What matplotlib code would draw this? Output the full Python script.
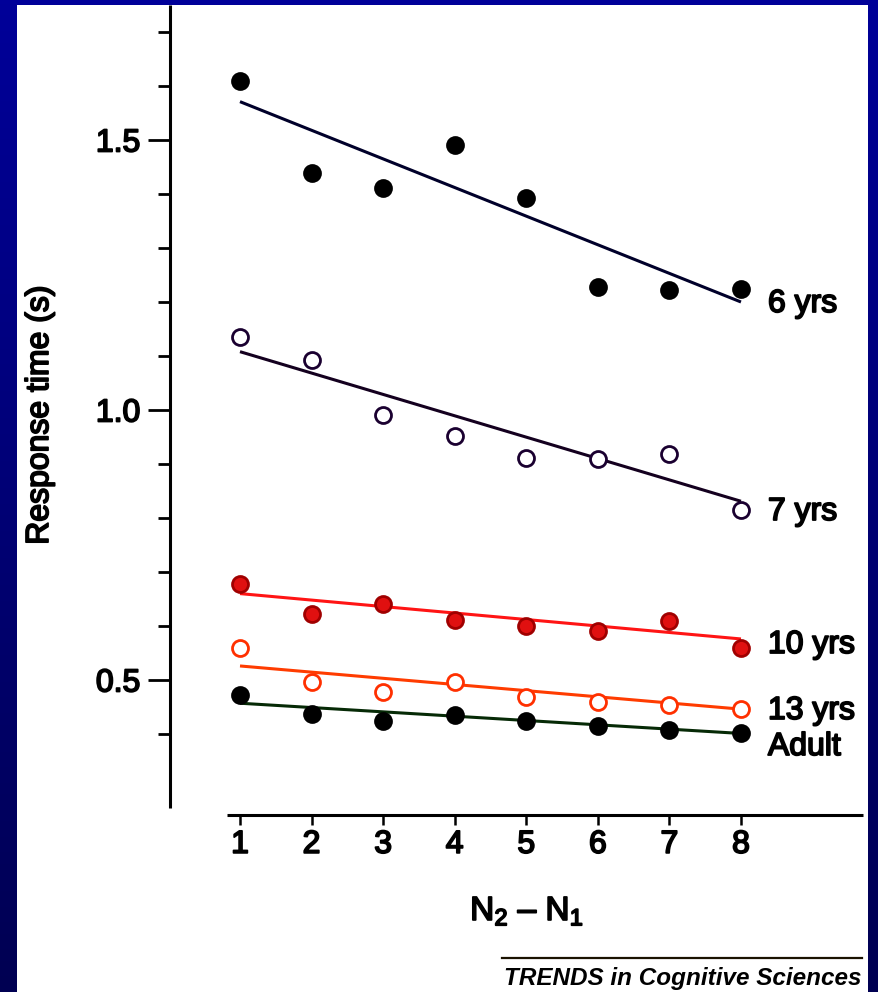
import matplotlib
matplotlib.use('Agg')
import matplotlib.pyplot as plt
import numpy as np
from matplotlib.patches import Rectangle
from matplotlib.colors import LinearSegmentedColormap
import matplotlib.patheffects as pe

plt.rcParams['font.family'] = ['Liberation Sans', 'DejaVu Sans']
plt.rcParams['mathtext.fontset'] = 'custom'
plt.rcParams['mathtext.rm'] = 'Liberation Sans'
plt.rcParams['mathtext.it'] = 'Liberation Sans:italic'
plt.rcParams['mathtext.bf'] = 'Liberation Sans:bold'

# ---------------- data ----------------
n_diff = [1, 2, 3, 4, 5, 6, 7, 8]
rt_6yrs = [1.609, 1.438, 1.412, 1.491, 1.393, 1.228, 1.223, 1.225]
rt_7yrs = [1.136, 1.093, 0.991, 0.952, 0.912, 0.909, 0.918, 0.814]
rt_10yrs = [0.677, 0.622, 0.640, 0.611, 0.600, 0.591, 0.610, 0.559]
rt_13yrs = [0.559, 0.497, 0.477, 0.496, 0.469, 0.459, 0.454, 0.446]
rt_adult = [0.473, 0.437, 0.425, 0.435, 0.424, 0.414, 0.407, 0.402]

fit_x = [1, 8]
fit_6yrs = [1.571, 1.200]
fit_7yrs = [1.108, 0.831]
fit_10yrs = [0.660, 0.576]
fit_13yrs = [0.526, 0.446]
fit_adult = [0.457, 0.401]

series_labels = ['6 yrs', '7 yrs', '10 yrs', '13 yrs', 'Adult']
y_major = [0.5, 1.0, 1.5]
y_major_labels = ['0.5', '1.0', '1.5']
y_minor = [0.4, 0.6, 0.7, 0.8, 0.9, 1.1, 1.2, 1.3, 1.4, 1.6, 1.7]
x_label = r'$\mathregular{N_2}$ – $\mathregular{N_1}$'
y_label = 'Response time (s)'
source = 'TRENDS in Cognitive Sciences'

# ---------------- figure ----------------
W, H = 879, 992
fig = plt.figure(figsize=(W / 100, H / 100), dpi=100)

bg = fig.add_axes([0, 0, 1, 1], zorder=-10)
grad = np.linspace(0, 1, 256).reshape(-1, 1)
cmap = LinearSegmentedColormap.from_list('bord', ['#000099', '#000052'])
bg.imshow(grad, aspect='auto', cmap=cmap, extent=[0, 1, 0, 1], origin='upper')
bg.add_patch(Rectangle((17 / W, 0), (868 - 17) / W, (H - 5) / H,
                       transform=bg.transAxes, facecolor='white', edgecolor='none'))
bg.set_xlim(0, 1)
bg.set_ylim(0, 1)
bg.set_axis_off()

ax = fig.add_axes([170 / W, (H - 815) / H, 693 / W, 810 / H])
ax.patch.set_alpha(0)
ax.set_xlim(0.0219, 9.705)
ax.set_ylim(0.25, 1.75)

stroke = [pe.withStroke(linewidth=1.3, foreground='black')]

styles = [
    dict(data=rt_6yrs, fit=fit_6yrs, lc='#00002a', mfc='black', mec='black'),
    dict(data=rt_7yrs, fit=fit_7yrs, lc='#14001f', mfc='white', mec='#1a0030'),
    dict(data=rt_10yrs, fit=fit_10yrs, lc='#ff1414', mfc='#e01010', mec='#a00000'),
    dict(data=rt_13yrs, fit=fit_13yrs, lc='#ff3c00', mfc='white', mec='#ff3000'),
    dict(data=rt_adult, fit=fit_adult, lc='#062a06', mfc='black', mec='black'),
]
label_y = [1.1815, 0.7963, 0.55, 0.4278, 0.3611]

for st, lab, ly in zip(styles, series_labels, label_y):
    ax.plot(fit_x, st['fit'], color=st['lc'], lw=2.2, solid_capstyle='butt', zorder=2)
    ax.plot(n_diff, st['data'], linestyle='none', marker='o', markersize=11.5,
            markerfacecolor=st['mfc'], markeredgecolor=st['mec'],
            markeredgewidth=2.0, zorder=3)
    ax.text(8.377, ly, lab, fontsize=23, color='black', ha='left', va='baseline',
            path_effects=stroke)

for s in ['top', 'right']:
    ax.spines[s].set_visible(False)
ax.spines['left'].set_bounds(0.263, 1.75)
ax.spines['bottom'].set_bounds(0.82, 9.705)
for s in ['left', 'bottom']:
    ax.spines[s].set_linewidth(2.2)
    ax.spines[s].set_capstyle('butt')

ax.set_yticks(y_major)
ax.set_yticklabels(y_major_labels)
ax.set_yticks(y_minor, minor=True)
ax.set_xticks(n_diff)
ax.set_xticklabels([str(v) for v in n_diff])

ax.tick_params(axis='y', which='major', direction='out', length=16, width=2.0,
               pad=5.5, labelsize=23)
ax.tick_params(axis='y', which='minor', direction='out', length=8.6, width=2.0)
ax.tick_params(axis='x', which='major', direction='out', length=7.2, width=1.8,
               pad=3.5, labelsize=23)
for t in ax.get_xticklabels() + ax.get_yticklabels():
    t.set_path_effects(stroke)

fig.text(40 / W, 1 - 415 / H, y_label, rotation=90, ha='center', va='center',
         fontsize=23, path_effects=stroke)
fig.text(527 / W, 1 - 920 / H, x_label, ha='center', va='baseline',
         fontsize=24, path_effects=stroke)

bg.plot([502 / W, 862 / W], [1 - 958 / H, 1 - 958 / H], color='#1a1200', lw=1.6,
        transform=bg.transAxes)
fig.text(862 / W, 1 - 985 / H, source, ha='right', va='baseline', fontsize=17.5,
         fontweight='bold', fontstyle='italic')

fig.savefig('out.png', dpi=100)
